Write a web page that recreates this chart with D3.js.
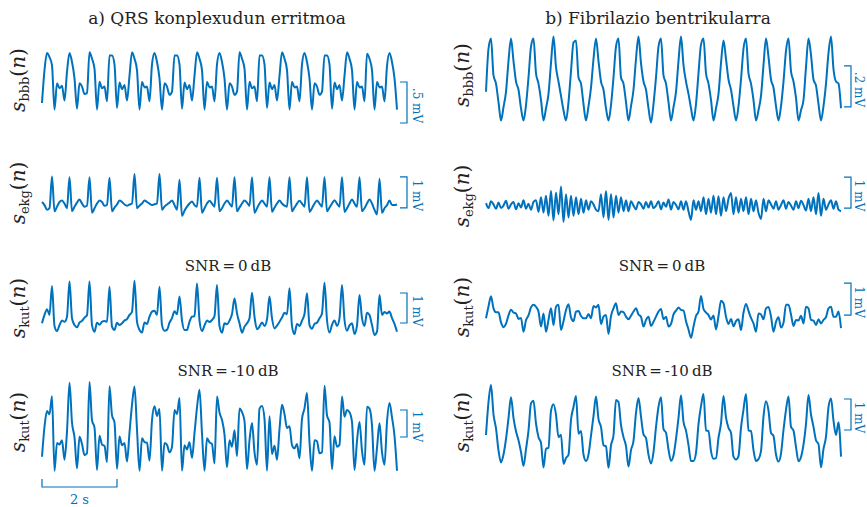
<!DOCTYPE html>
<meta charset="utf-8">
<style>
body { margin: 0; background: #fff; }
text { font-family: "DejaVu Serif", serif; fill: #222; }
.sig { fill: none; stroke: #0072bd; stroke-width: 2; stroke-linejoin: round; }
.bar { fill: none; stroke: #0072bd; stroke-width: 1.2; }
.barlbl { fill: #0072bd; font-size: 12px; }
</style>
<body>
<script src="https://cdn.jsdelivr.net/npm/d3@7"></script>
<script>

var width = 867, height = 507;
var dt = 1 / 15;   // seconds between samples

// a) QRS konplexudun erritmoa
var sbbbA = [
  0.0, 0.4, 0.61, 0.56, 0.46, -0.08, 0.24, 0.18, 0.21, 0.03,
  0.38, 0.61, 0.5, 0.3, -0.07, 0.24, 0.2, 0.11, 0.12, 0.62,
  0.54, 0.42, -0.08, 0.26, 0.18, 0.2, 0.02, 0.58, 0.58, 0.47,
  -0.06, 0.25, 0.17, 0.22, 0.03, 0.33, 0.62, 0.54, 0.4, -0.08,
  0.26, 0.19, 0.2, 0.02, 0.47, 0.61, 0.5, 0.3, -0.08, 0.24,
  0.2, 0.1, 0.14, 0.58, 0.58, 0.47, -0.07, 0.25, 0.17, 0.22,
  0.03, 0.33, 0.62, 0.54, 0.4, -0.08, 0.26, 0.19, 0.2, 0.02,
  0.47, 0.61, 0.5, 0.3, -0.08, 0.24, 0.2, 0.1, 0.14, 0.62,
  0.54, 0.42, -0.08, 0.26, 0.18, 0.2, 0.02, 0.58, 0.58, 0.47,
  -0.06, 0.25, 0.17, 0.22, 0.03, 0.33, 0.62, 0.54, 0.4, -0.08,
  0.26, 0.19, 0.2, 0.02, 0.47, 0.61, 0.5, 0.3, -0.08, 0.24,
  0.2, 0.1, 0.14, 0.58, 0.58, 0.47, -0.07, 0.25, 0.17, 0.22,
  0.03, 0.33, 0.62, 0.54, 0.4, -0.08, 0.26, 0.19, 0.2, 0.02,
  0.6, 0.54, 0.4, -0.08, 0.26, 0.19, 0.2, 0.02, 0.45, 0.61,
  0.5, 0.3, -0.08
];
var sekgA = [
  0.0, -0.1, -0.25, -0.2, 0.82, -0.3, -0.15, 0.0, 0.05, -0.05,
  -0.2, 0.8, -0.3, -0.15, -0.02, 0.08, -0.05, -0.15, -0.12, 0.8,
  -0.35, -0.2, -0.05, 0.05, 0.0, -0.12, -0.1, 0.78, -0.3, -0.18,
  -0.08, 0.05, 0.0, -0.08, -0.12, -0.08, -0.05, 0.9, -0.2, -0.12,
  -0.05, 0.05, 0.0, -0.05, -0.1, -0.07, -0.05, 0.9, -0.25, -0.15,
  -0.08, -0.02, 0.05, -0.1, -0.25, 0.72, -0.45, -0.28, -0.15, -0.05,
  0.02, -0.1, -0.15, 0.78, -0.35, -0.2, -0.05, 0.04, -0.05, -0.15,
  0.78, -0.3, -0.2, -0.05, 0.05, -0.05, -0.15, 0.8, -0.3, -0.18,
  -0.05, 0.05, -0.02, -0.12, 0.8, -0.35, -0.2, -0.05, 0.05, -0.05,
  -0.15, 0.8, -0.32, -0.18, -0.05, 0.05, -0.05, -0.12, -0.15, 0.8,
  -0.3, -0.18, -0.05, 0.04, -0.05, -0.15, 0.8, -0.32, -0.2, -0.05,
  0.05, -0.05, -0.15, 0.8, -0.3, -0.18, -0.05, 0.06, -0.05, -0.15,
  0.8, -0.32, -0.2, -0.05, 0.08, -0.05, -0.15, 0.8, -0.3, -0.2,
  -0.05, 0.08, -0.05, -0.25, -0.4, 0.75, -0.35, -0.2, -0.1, 0.05,
  -0.1, -0.1, -0.08
];
var skut0A = [
  -0.11, 0.17, 0.36, 0.17, 1.13, -0.2, -0.37, -0.17, -0.02, -0.06,
  0.11, 1.28, 0.06, -0.17, -0.24, -0.09, -0.03, 0.08, 0.16, 1.28,
  -0.17, -0.39, -0.09, -0.16, -0.06, -0.03, -0.06, 1.11, -0.22, -0.33,
  -0.09, -0.17, -0.11, -0.02, 0.03, 0.17, 0.27, 1.31, -0.06, -0.33,
  -0.42, -0.08, -0.13, 0.11, 0.28, 0.31, 0.17, 1.11, -0.17, -0.36,
  -0.33, -0.09, 0.06, 0.29, 0.19, 0.78, -0.02, -0.33, -0.33, -0.06,
  0.11, 0.13, 1.22, -0.02, -0.37, -0.18, -0.02, -0.07, 0.0, 0.13,
  1.17, -0.2, -0.42, -0.11, -0.14, -0.02, 0.2, 0.72, 0.22, -0.11,
  -0.42, -0.22, -0.11, 0.06, 0.91, 0.11, -0.31, -0.22, -0.08, -0.2,
  0.02, 0.78, 0.06, -0.28, -0.19, -0.06, 0.08, 0.24, 0.19, 1.06,
  -0.2, -0.47, -0.13, -0.2, -0.02, 0.2, 0.89, -0.17, -0.29, -0.13,
  -0.09, 0.06, 0.22, 1.24, 0.0, -0.42, -0.16, -0.02, -0.2, 0.06,
  1.17, 0.0, -0.36, -0.18, -0.11, -0.47, -0.18, 0.83, 0.06, -0.2,
  0.24, 0.17, -0.17, -0.5, -0.39, 0.83, 0.17, 0.27, 0.22, 0.28,
  0.06, -0.13, -0.39
];
var skut10A = [
  -0.73, 0.38, 0.96, 0.84, 1.51, -1.25, -0.22, -0.28, -0.12, -0.84,
  0.21, 2.01, 0.53, -0.01, -1.16, 0.01, -0.26, -0.67, -0.6, 2.04,
  0.62, 0.35, -1.22, 0.05, -0.28, -0.33, -0.93, 1.88, 0.8, 0.54,
  -1.18, 0.02, -0.31, -0.22, -0.91, 0.16, 1.19, 1.87, 0.28, -1.25,
  -0.05, -0.19, -0.21, -0.88, 0.62, 1.14, 0.78, 1.04, -1.25, -0.22,
  -0.29, -0.57, -0.36, 1.0, 0.85, 1.44, -1.25, -0.31, -0.46, -0.19,
  -0.77, 0.14, 1.09, 1.75, 0.13, -1.25, -0.05, -0.2, -0.26, -0.98,
  1.5, 0.91, 0.63, 0.09, -1.12, -0.12, -0.36, 0.25, -0.71, 1.06,
  0.92, 0.6, -1.19, -0.12, 0.52, -0.56, -1.03, 1.05, 1.15, 0.67,
  -1.25, 0.77, -0.63, -0.32, -0.84, 0.29, 1.19, 0.85, 0.33, 0.4,
  -0.3, -0.42, -0.26, -0.79, 0.67, 1.06, 1.63, -0.18, -1.25, -0.12,
  -0.16, -0.6, -0.56, 1.9, 0.8, 0.54, -1.19, 0.03, -0.36, -0.29,
  1.5, 0.75, 1.0, 0.92, 0.56, -1.22, -0.15, 0.56, -0.51, -1.03,
  1.12, 1.05, 0.43, -1.25, -0.4, 0.51, -0.56, -1.03, 0.56, 1.26,
  0.73, 0.04, -1.25
];

// b) Fibrilazio bentrikularra
var sbbbB = [
  0.04, 0.25, 0.3, 0.12, 0.08, -0.01, -0.1, -0.035, 0.04, 0.19,
  0.3, 0.19, 0.09, 0.05, -0.04, -0.1, -0.025, 0.11, 0.26, 0.3,
  0.13, 0.08, 0.0, -0.1, -0.04, 0.03, 0.18, 0.31, 0.16, 0.09,
  0.02, -0.05, -0.1, -0.01, 0.14, 0.28, 0.29, 0.11, 0.08, -0.02,
  -0.1, -0.03, 0.06, 0.2, 0.3, 0.19, 0.09, 0.05, -0.04, -0.1,
  -0.025, 0.11, 0.26, 0.3, 0.11, 0.08, -0.01, -0.1, -0.03, 0.05,
  0.2, 0.31, 0.18, 0.09, 0.05, -0.04, -0.11, -0.02, 0.11, 0.26,
  0.3, 0.12, 0.08, -0.01, -0.1, -0.035, 0.04, 0.19, 0.31, 0.17,
  0.09, 0.03, -0.04, -0.1, -0.02, 0.13, 0.27, 0.3, 0.13, 0.08,
  0.0, -0.1, -0.04, 0.03, 0.18, 0.29, 0.2, 0.1, 0.05, -0.03,
  -0.1, -0.03, 0.1, 0.25, 0.3, 0.13, 0.08, 0.0, -0.1, -0.05,
  0.02, 0.17, 0.3, 0.21, 0.1, 0.06, -0.03, -0.1, -0.03, 0.09,
  0.24, 0.3, 0.14, 0.09, 0.01, -0.1, -0.05, 0.0, 0.16, 0.3,
  0.22, 0.1, 0.07, -0.02, -0.1, -0.03, 0.08, 0.23, 0.31, 0.15,
  0.09, 0.08, -0.04
];
var sekgB = [
  0.06, -0.1, 0.12, 0.02, -0.12, 0.08, -0.1, -0.02, 0.14, -0.12,
  0.02, 0.1, -0.14, 0.06, -0.08, 0.15, -0.12, 0.04, -0.15, 0.1,
  0.15, -0.22, 0.25, -0.25, 0.3, -0.35, 0.45, -0.5, 0.4, -0.3,
  0.6, -0.55, 0.35, -0.4, 0.3, -0.35, 0.25, -0.3, 0.2, -0.25,
  0.15, -0.15, 0.12, 0.02, -0.15, -0.2, 0.35, -0.4, 0.45, -0.48,
  0.35, -0.4, 0.3, -0.25, 0.25, -0.2, 0.15, -0.2, 0.12, -0.02,
  -0.14, 0.1, 0.02, -0.12, 0.1, -0.08, 0.12, -0.1, -0.02, 0.12,
  -0.14, 0.08, -0.06, 0.18, -0.15, 0.1, 0.0, -0.14, 0.12, -0.15,
  0.12, -0.2, -0.48, 0.15, -0.15, 0.12, -0.2, 0.25, -0.3, 0.2,
  -0.25, 0.3, -0.3, 0.28, -0.35, 0.25, -0.2, 0.2, 0.39, -0.3,
  0.25, -0.25, 0.2, -0.2, 0.25, -0.3, 0.2, -0.2, 0.15, -0.25,
  -0.45, 0.2, -0.2, 0.15, 0.02, -0.12, 0.12, -0.15, 0.0, 0.15,
  -0.12, 0.1, -0.02, -0.15, 0.12, -0.1, 0.14, 0.0, -0.18, 0.2,
  -0.2, 0.25, -0.3, 0.39, -0.35, 0.2, -0.15, 0.02, 0.15, -0.12,
  0.12, -0.15, -0.2
];
var skut0B = [
  -0.04, 0.33, 0.65, 0.27, 0.15, 0.15, -0.17, -0.32, -0.21, 0.05,
  0.23, 0.14, 0.11, -0.06, -0.03, -0.46, -0.1, 0.05, 0.3, 0.38,
  0.32, 0.17, -0.3, 0.11, -0.46, -0.09, 0.27, -0.25, 0.32, 0.38,
  -0.41, -0.13, 0.22, 0.4, -0.01, -0.13, 0.17, 0.19, 0.03, -0.04,
  -0.04, 0.09, -0.04, 0.34, 0.3, 0.38, -0.22, 0.01, 0.06, -0.53,
  0.03, 0.27, 0.43, 0.06, 0.17, 0.15, 0.01, -0.07, 0.04, 0.17,
  0.27, 0.08, 0.01, -0.3, -0.09, 0.01, -0.28, -0.15, 0.01, 0.17,
  0.25, -0.07, 0.01, -0.3, -0.22, 0.08, 0.2, 0.3, 0.22, 0.2,
  -0.13, -0.39, -0.65, -0.3, 0.03, 0.17, 0.66, 0.25, 0.14, 0.06,
  -0.08, 0.05, -0.39, 0.03, 0.51, 0.43, 0.01, -0.22, -0.06, -0.29,
  -0.13, -0.07, -0.41, 0.14, 0.41, 0.19, -0.03, -0.2, -0.46, 0.11,
  0.08, -0.07, 0.27, 0.31, 0.02, -0.46, -0.15, -0.01, -0.33, -0.18,
  0.38, 0.38, 0.08, -0.28, -0.09, -0.11, 0.04, -0.2, 0.32, 0.27,
  -0.09, -0.11, -0.25, -0.07, -0.2, -0.09, 0.0, 0.27, 0.32, 0.01,
  0.01, 0.17, -0.35
];
var skut10B = [
  -0.16, 0.9, 1.45, 0.5, 0.05, -0.66, -1.05, -0.79, -0.29, 0.38,
  1.06, 0.39, -0.04, -0.33, -0.71, -1.16, -0.62, -0.02, 0.86, 0.94,
  0.21, -0.23, -0.42, -1.21, -0.61, -0.57, 0.62, 0.83, 0.49, -0.23,
  -0.15, -1.09, -0.9, -0.8, 0.33, 0.74, 1.1, -0.12, -0.03, -0.79,
  -1.0, -0.79, -0.18, 0.45, 1.08, 0.35, 0.1, -0.49, -0.53, -1.22,
  -0.5, -0.17, 0.97, 0.9, 0.16, -0.23, -0.52, -1.18, -0.65, -0.35,
  0.55, 1.03, 0.43, -0.14, -0.26, -0.8, -1.08, -0.71, 0.09, 0.75,
  1.06, 0.03, -0.09, -0.63, -0.99, -0.82, -0.29, 0.39, 1.12, 0.26,
  -0.02, -0.49, -1.0, -1.0, -0.74, 0.19, 0.77, 1.16, -0.02, -0.03,
  -0.68, -0.93, -0.91, -0.25, 0.21, 1.1, 0.4, 0.07, -0.09, -0.86,
  -0.95, -0.84, 0.07, 0.66, 1.16, -0.02, -0.03, -0.65, -1.0, -0.94,
  -0.68, 0.44, 0.93, 0.63, -0.09, -0.19, -0.79, -1.02, -0.76, 0.0,
  0.65, 1.08, 0.1, -0.02, -0.55, -1.01, -0.87, -0.47, 0.2, 1.13,
  0.5, 0.1, -0.33, -0.46, -1.2, -0.61, -0.21, 0.74, 1.02, 0.3,
  -0.16, 0.25, -0.86
];

var titles = ["a) QRS konplexudun erritmoa", "b) Fibrilazio bentrikularra"];
var snrTitles = ["SNR\u2009=\u20090\u2009dB", "SNR\u2009=\u2009-10\u2009dB"];

// layout of the two columns
var cols = [
  { x0: 42, x1: 397, title: 217, snr: 228, label: 25, bar: 407, barLbl: 413 },
  { x0: 486, x1: 841, title: 658, snr: 662, label: 469, bar: 851, barLbl: 855 }
];

var panels = [
  { col: 0, data: sbbbA, sub: "bbb", zero: 103, pxPerMv: 82, barLo: -0.244, barMv: 0.5, barText: ".5 mV", labelY: 80 },
  { col: 1, data: sbbbB, sub: "bbb", zero: 100, pxPerMv: 205, barLo: -0.034, barMv: 0.2, barText: ".2 mV", labelY: 75 },
  { col: 0, data: sekgA, sub: "ekg", zero: 202, pxPerMv: 31, barLo: -0.19, barMv: 1, barText: "1 mV", labelY: 193 },
  { col: 1, data: sekgB, sub: "ekg", zero: 205, pxPerMv: 31, barLo: -0.1, barMv: 1, barText: "1 mV", labelY: 196 },
  { col: 0, data: skut0A, sub: "kut", zero: 320, pxPerMv: 30, barLo: -0.1, barMv: 1, barText: "1 mV", labelY: 308 },
  { col: 1, data: skut0B, sub: "kut", zero: 317, pxPerMv: 32, barLo: 0.06, barMv: 1, barText: "1 mV", labelY: 307 },
  { col: 0, data: skut10A, sub: "kut", zero: 437, pxPerMv: 27, barLo: 0, barMv: 1, barText: "1 mV", labelY: 422 },
  { col: 1, data: skut10B, sub: "kut", zero: 430, pxPerMv: 31, barLo: 0, barMv: 1, barText: "1 mV", labelY: 422 }
];

var svg = d3.select("body").append("svg")
    .attr("width", width)
    .attr("height", height);

// column titles
cols.forEach(function(c, i) {
  svg.append("text")
      .attr("x", c.title).attr("y", 24)
      .attr("text-anchor", "middle")
      .style("font-size", "17px")
      .text(titles[i]);
  svg.append("text")
      .attr("x", c.snr).attr("y", 271)
      .attr("text-anchor", "middle")
      .style("font-size", "15px")
      .text(snrTitles[0]);
  svg.append("text")
      .attr("x", c.snr).attr("y", 376)
      .attr("text-anchor", "middle")
      .style("font-size", "15px")
      .text(snrTitles[1]);
});

panels.forEach(function(p) {
  var c = cols[p.col];
  var x = d3.scaleLinear().domain([0, (p.data.length - 1) * dt]).range([c.x0, c.x1]);
  var y = d3.scaleLinear().domain([0, 1]).range([p.zero, p.zero - p.pxPerMv]);

  var line = d3.line()
      .curve(d3.curveMonotoneX)
      .x(function(d, i) { return x(i * dt); })
      .y(function(d) { return y(d); });

  svg.append("path")
      .datum(p.data)
      .attr("class", "sig")
      .attr("d", line);

  // amplitude scale bar
  var yb = y(p.barLo), yt = y(p.barLo + p.barMv);
  svg.append("path")
      .attr("class", "bar")
      .attr("d", "M" + (c.bar - 7) + "," + yt + "H" + c.bar + "V" + yb + "H" + (c.bar - 7));
  svg.append("text")
      .attr("class", "barlbl")
      .attr("text-anchor", "middle")
      .attr("transform", "translate(" + c.barLbl + "," + ((yt + yb) / 2 + 3) + ") rotate(90)")
      .text(p.barText);

  // y label s_xxx(n)
  var lbl = svg.append("text")
      .attr("text-anchor", "middle")
      .attr("transform", "translate(" + c.label + "," + p.labelY + ") rotate(-90)")
      .style("font-size", "20px");
  lbl.append("tspan").style("font-style", "italic").text("s");
  lbl.append("tspan").attr("dy", 4).style("font-size", "13px").text(p.sub);
  lbl.append("tspan").attr("dy", -4).text("(");
  lbl.append("tspan").style("font-style", "italic").text("n");
  lbl.append("tspan").text(")");

  // time scale bar under the last left panel
  if (p.data === skut10A) {
    svg.append("path")
        .attr("class", "bar")
        .attr("d", "M" + x(0) + ",479V487H" + x(2) + "V479");
    svg.append("text")
        .attr("class", "barlbl")
        .style("font-size", "13px")
        .attr("x", (x(0) + x(2)) / 2).attr("y", 504)
        .attr("text-anchor", "middle")
        .text("2 s");
  }
});

</script>
